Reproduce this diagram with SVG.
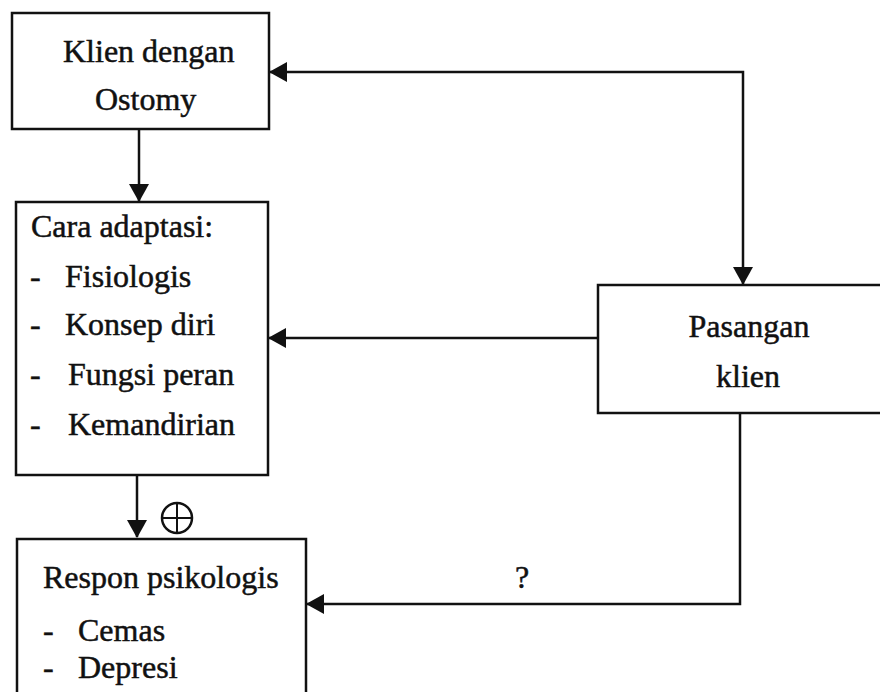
<svg xmlns="http://www.w3.org/2000/svg" width="880" height="692" viewBox="0 0 880 692">
<style>
.box{fill:#fff;stroke:#111;stroke-width:2.5}
.t{font-family:"Liberation Serif","Times New Roman","DejaVu Serif",serif;font-size:32px;fill:#111;stroke:#111;stroke-width:0.5}
.c{text-anchor:middle}
.ln{fill:none;stroke:#111;stroke-width:2.5}
</style>
<defs>
<marker id="ah" viewBox="0 0 18 20" refX="17" refY="10" markerWidth="18" markerHeight="20" markerUnits="userSpaceOnUse" orient="auto-start-reverse">
<path d="M0,0 L18,10 L0,20 z" fill="#111"/>
</marker>
</defs>
<rect width="880" height="692" fill="#fff"/>
<g id="connectors">
<path class="ln" d="M270,72 H743 V284" marker-start="url(#ah)" marker-end="url(#ah)"/>
<path class="ln" d="M139,129 V201" marker-end="url(#ah)"/>
<path class="ln" d="M598,338 H269" marker-end="url(#ah)"/>
<path class="ln" d="M137,475 V537" marker-end="url(#ah)"/>
<path class="ln" d="M740,413 V604 H307" marker-end="url(#ah)"/>
<text class="t c" x="522" y="588">?</text>
<g id="plus">
<circle cx="177" cy="518" r="15" fill="none" stroke="#111" stroke-width="2.5"/>
<path d="M162,518 H192 M177,503 V533" stroke="#111" stroke-width="2"/>
</g>
</g>
<g id="klien-ostomy">
<rect class="box" x="12" y="13" width="257" height="116"/>
<text class="t" x="63" y="62">Klien dengan</text>
<text class="t" x="95" y="110">Ostomy</text>
</g>
<g id="cara-adaptasi">
<rect class="box" x="16" y="202" width="252" height="273"/>
<text class="t" x="31" y="237">Cara adaptasi:</text>
<text class="t" x="30" y="287">-</text><text class="t" x="65" y="287">Fisiologis</text>
<text class="t" x="30" y="335">-</text><text class="t" x="65" y="335">Konsep diri</text>
<text class="t" x="30" y="385" font-size="24">-</text><text class="t" x="68" y="385">Fungsi peran</text>
<text class="t" x="30" y="435" font-size="24">-</text><text class="t" x="68" y="435">Kemandirian</text>
</g>
<g id="respon-psikologis">
<rect class="box" x="17" y="539" width="289" height="200"/>
<text class="t" x="43" y="588">Respon psikologis</text>
<text class="t" x="43" y="641">-</text><text class="t" x="78" y="641">Cemas</text>
<text class="t" x="43" y="678">-</text><text class="t" x="78" y="678">Depresi</text>
</g>
<g id="pasangan-klien">
<rect class="box" x="598" y="285" width="300" height="128"/>
<text class="t c" x="749" y="337">Pasangan</text>
<text class="t c" x="748" y="387">klien</text>
</g>
</svg>
